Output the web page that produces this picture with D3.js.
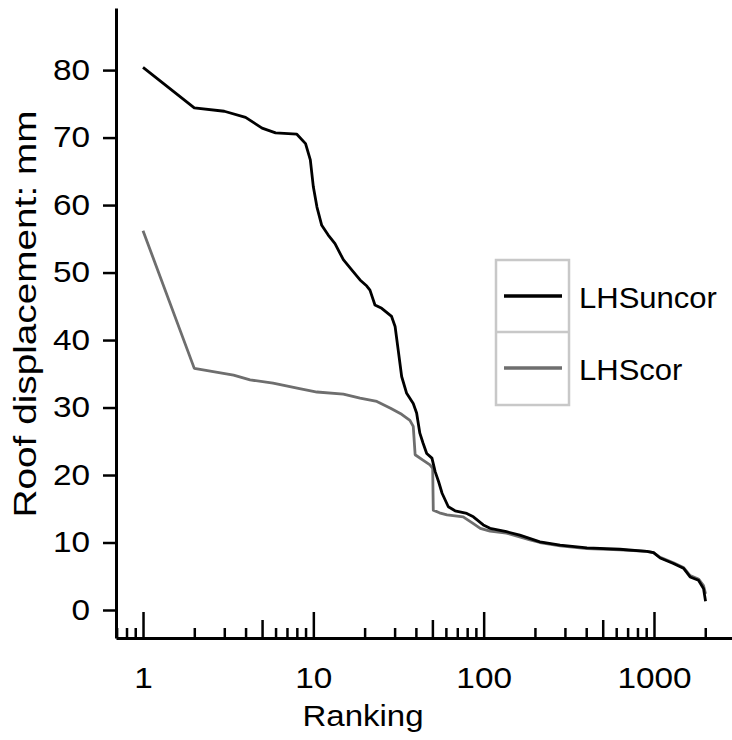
<!DOCTYPE html>
<html>
<head>
<meta charset="utf-8">
<script src="https://cdn.jsdelivr.net/npm/d3@7"></script>
<style>
  body { margin: 0; background: #fff; }
  svg text { font-family: "Liberation Sans", Arial, sans-serif; fill: #000; }
</style>
</head>
<body>
<div id="chart"></div>
<script>
// ranking (log axis) and roof displacement (mm)
var rankUncor = [1, 2, 3, 4, 5, 6, 8, 9, 9.6, 10, 10.5, 11.2, 12.2, 13.4, 15, 16.8, 18.8, 20.6, 21.5, 23, 25.2, 28.8, 30.2, 31.5, 33, 35.3, 38.6, 40.4, 42.2, 44.1, 46.3, 49.7, 51.9, 54.4, 57, 62, 67.9, 79.6, 87, 99.5, 109, 136, 163, 214, 281, 404, 631, 908, 994, 1087, 1300, 1489, 1630, 1824, 1953, 2008];
var valUncor = [80.4, 74.4, 73.9, 73.0, 71.4, 70.7, 70.5, 69.1, 66.7, 62.7, 59.7, 57.0, 55.6, 54.3, 51.9, 50.4, 48.9, 48.0, 47.4, 45.2, 44.7, 43.5, 42.0, 38.5, 34.6, 32.1, 30.6, 29.2, 26.2, 24.7, 23.2, 22.5, 20.5, 19.0, 17.3, 15.3, 14.7, 14.3, 13.8, 12.6, 12.1, 11.6, 11.1, 10.1, 9.6, 9.2, 9.0, 8.7, 8.5, 7.7, 6.9, 6.2, 4.9, 4.4, 3.2, 1.3];

var rankCor = [1, 2, 3.4, 4.25, 5.8, 8.3, 10.5, 15, 18.8, 23.6, 28.4, 33, 36.9, 38.6, 39.6, 44, 48.4, 50.2, 50.6, 55, 60.9, 75.8, 87, 95.5, 109, 136, 187, 214, 281, 404, 631, 908, 994, 1087, 1300, 1489, 1630, 1824, 1953, 2008];
var valCor = [56.2, 35.8, 34.8, 34.1, 33.6, 32.8, 32.3, 32.0, 31.4, 30.9, 29.9, 29.0, 28.1, 27.2, 23.0, 22.2, 21.5, 21.0, 14.8, 14.4, 14.1, 13.8, 12.8, 12.1, 11.7, 11.4, 10.4, 10.0, 9.5, 9.1, 8.9, 8.7, 8.5, 7.8, 7.0, 6.3, 5.1, 4.6, 3.6, 2.4];

var yTicks = [0, 10, 20, 30, 40, 50, 60, 70, 80];
var xMajor = [1, 10, 100, 1000];
var xMid = [5, 50, 500];
var xMinor = [0.7, 0.8, 0.9, 2, 3, 4, 6, 7, 8, 9, 20, 30, 40, 60, 70, 80, 90, 200, 300, 400, 600, 700, 800, 900, 2000];
var seriesNames = ["LHSuncor", "LHScor"];
var seriesColors = ["#000000", "#6e6e6e"];

var W = 732, H = 740;
var svg = d3.select("#chart").append("svg")
    .attr("width", W)
    .attr("height", H);

var x = d3.scaleLog()
    .domain([0.694, 2871])
    .range([116, 732]);
var y = d3.scaleLinear()
    .domain([-4.15, 89.2])
    .range([638, 8]);

// y axis, ticks outward
var yAxis = svg.append("g")
    .attr("transform", "translate(116,0)")
    .call(d3.axisLeft(y).tickValues(yTicks).tickSizeInner(13).tickSizeOuter(0).tickPadding(13));
yAxis.select(".domain").attr("stroke-width", 3);
yAxis.selectAll(".tick line").attr("stroke-width", 2.5);
yAxis.selectAll(".tick text")
    .attr("font-size", 29)
    .attr("x", -26 / 1.15)
    .attr("transform", "scale(1.15,1)");

// x axis, ticks pointing up into the plot
function xTickGroup(vals, len) {
  var g = svg.append("g")
      .attr("transform", "translate(0,638)")
      .call(d3.axisBottom(x).tickValues(vals).tickSizeInner(-len).tickSizeOuter(0)
          .tickFormat(function(){ return ""; }));
  g.select(".domain").remove();
  g.selectAll(".tick line").attr("stroke-width", 2.5);
  return g;
}
xTickGroup(xMinor, 10);
xTickGroup(xMid, 18);

var xAxis = svg.append("g")
    .attr("transform", "translate(0,638)")
    .call(d3.axisBottom(x).tickValues(xMajor).tickSizeInner(-26).tickSizeOuter(0).tickPadding(29)
        .tickFormat(d3.format("d")));
xAxis.select(".domain").attr("stroke-width", 3);
xAxis.selectAll(".tick line").attr("stroke-width", 2.5);
xAxis.selectAll(".tick text")
    .attr("font-size", 29)
    .attr("transform", "scale(1.15,1)");

// axis titles
svg.append("text")
    .attr("transform", "translate(363,726) scale(1.1,1)")
    .attr("text-anchor", "middle")
    .attr("font-size", 30)
    .text("Ranking");

svg.append("text")
    .attr("transform", "translate(36,314) rotate(-90) scale(1.25,1)")
    .attr("text-anchor", "middle")
    .attr("font-size", 31)
    .text("Roof displacement: mm");

// curves
var line = d3.line()
    .x(function(d) { return x(d[0]); })
    .y(function(d) { return y(d[1]); });

var corData = rankCor.map(function(r, i) { return [r, valCor[i]]; });
var uncorData = rankUncor.map(function(r, i) { return [r, valUncor[i]]; });

svg.append("path")
    .datum(corData)
    .attr("fill", "none")
    .attr("stroke", seriesColors[1])
    .attr("stroke-width", 2.8)
    .attr("stroke-linejoin", "round")
    .attr("d", line);

svg.append("path")
    .datum(uncorData)
    .attr("fill", "none")
    .attr("stroke", seriesColors[0])
    .attr("stroke-width", 2.8)
    .attr("stroke-linejoin", "round")
    .attr("d", line);

// legend
var legend = svg.append("g");
legend.append("rect")
    .attr("x", 496).attr("y", 260)
    .attr("width", 73).attr("height", 145)
    .attr("fill", "none")
    .attr("stroke", "#c8c8c8")
    .attr("stroke-width", 2.5);
legend.append("line")
    .attr("x1", 496).attr("x2", 569)
    .attr("y1", 332).attr("y2", 332)
    .attr("stroke", "#c8c8c8")
    .attr("stroke-width", 2.5);
seriesNames.forEach(function(name, i) {
  var ly = 296 + i * 72;
  legend.append("line")
      .attr("x1", 504).attr("x2", 562)
      .attr("y1", ly).attr("y2", ly)
      .attr("stroke", seriesColors[i])
      .attr("stroke-width", 3.5);
  legend.append("text")
      .attr("transform", "translate(579," + (ly + 12) + ") scale(1.07,1)")
      .attr("font-size", 29)
      .text(name);
});
</script>
</body>
</html>
